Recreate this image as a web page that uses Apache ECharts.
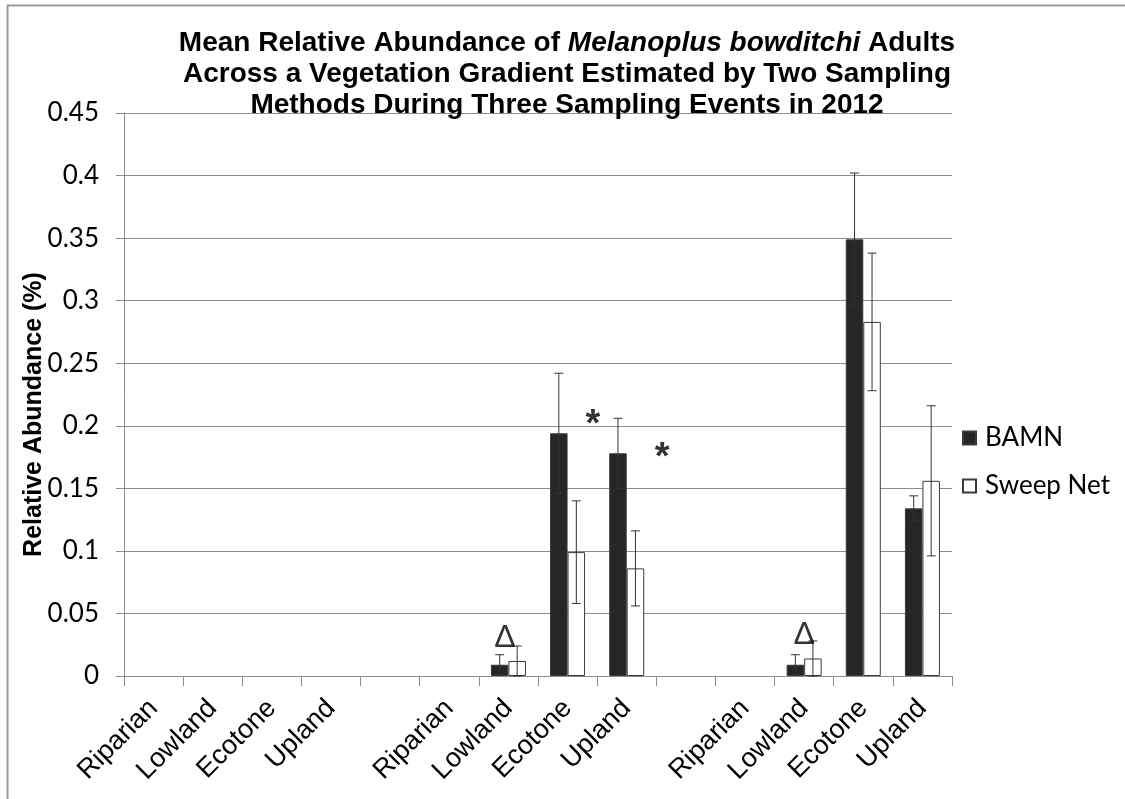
<!DOCTYPE html>
<html>
<head>
<meta charset="utf-8">
<script src="https://cdn.jsdelivr.net/npm/echarts@6/dist/echarts.min.js"></script>
<style>
html,body{margin:0;padding:0;background:#fff;}
#chart{width:1125px;height:799px;}
</style>
</head>
<body>
<div id="chart"></div>
<script>
// ---- data ----
const categories = ['Riparian','Lowland','Ecotone','Upland','',
                    'Riparian','Lowland','Ecotone','Upland','',
                    'Riparian','Lowland','Ecotone','Upland'];
const bamn      = [0,0,0,0,null, 0,0.009,0.194,0.178,null, 0,0.009,0.349,0.134];
const bamnErr   = [null,null,null,null,null, null,0.008,0.048,0.028,null, null,0.008,0.053,0.010];
const sweep     = [0,0,0,0,null, 0,0.012,0.099,0.086,null, 0,0.014,0.283,0.156];
const sweepErr  = [null,null,null,null,null, null,0.012,0.041,0.030,null, null,0.014,0.055,0.060];
const yTicks    = [0,0.05,0.1,0.15,0.2,0.25,0.3,0.35,0.4,0.45];
// annotation marks: [x position in category units, y value, symbol]
const notes = [
  [6.44, 0.030, 'Δ'],
  [11.50, 0.033, 'Δ'],
  [7.93, 0.200, '*'],
  [9.10, 0.174, '*']
];

const BAR_FRAC = 0.296;
const GRID_COLOR = '#8c8c8c';

function errData(vals, errs){
  const out = [];
  vals.forEach((v,i)=>{ if(v!=null && errs[i]!=null) out.push([i, v, errs[i]]); });
  return out;
}
function barData(vals){
  return vals.map(v => v === 0 ? {value:0, itemStyle:{borderWidth:0}} : v);
}

function errRender(sideSign){
  return function(params, api){
    const idx = api.value(0), v = api.value(1), e = api.value(2);
    const c = api.coord([idx, v]);
    const bw = api.size([1,0])[0] * BAR_FRAC;
    const x = c[0] + sideSign * bw/2;
    const top = api.coord([idx, v + e])[1];
    const bot = api.coord([idx, Math.max(0, v - e)])[1];
    const cap = 4.5;
    const style = {stroke:'#333', lineWidth:1};
    return {type:'group', children:[
      {type:'line', shape:{x1:x,y1:top,x2:x,y2:bot}, style},
      {type:'line', shape:{x1:x-cap,y1:top,x2:x+cap,y2:top}, style},
      {type:'line', shape:{x1:x-cap,y1:bot,x2:x+cap,y2:bot}, style}
    ]};
  };
}

const TITLE_FONT = 'Liberation Sans, Arial, sans-serif';
const chart = echarts.init(document.getElementById('chart'), null, {renderer:'canvas'});
const option = {
  animation:false,
  backgroundColor:'#fff',
  title:{
    left:562, top:23, textAlign:'center',
    text:'{b|Mean Relative Abundance of }{i|Melanoplus bowditchi}{b| Adults}\n{b|Across a Vegetation Gradient Estimated by Two Sampling}\n{b|Methods During Three Sampling Events in 2012}',
    textStyle:{
      rich:{
        b:{fontFamily:TITLE_FONT, fontWeight:'bold', fontSize:28, lineHeight:31, color:'#000'},
        i:{fontFamily:TITLE_FONT, fontWeight:'bold', fontStyle:'italic', fontSize:28, lineHeight:31, color:'#000'}
      }
    }
  },
  legend:{
    orient:'vertical', left:962, top:425, padding:0,
    itemWidth:13, itemHeight:13, itemGap:22,
    icon:'rect',
    textStyle:{fontFamily:'Lato, Open Sans, sans-serif', fontSize:26, color:'#000', padding:[0,0,0,4]},
    data:['BAMN','Sweep Net']
  },
  grid:{left:124, right:173, top:113, bottom:123, containLabel:false},
  xAxis:[{
    type:'category', data:categories,
    axisLine:{lineStyle:{color:GRID_COLOR, width:1}},
    axisTick:{show:true, length:10, interval:0, lineStyle:{color:GRID_COLOR}},
    axisLabel:{interval:0, rotate:45, margin:28, fontFamily:'Liberation Sans, Arial', fontSize:27, color:'#000'},
    splitLine:{show:false}
  },{
    type:'value', min:0, max:categories.length, show:false
  }],
  yAxis:{
    type:'value', min:0, max:0.45, interval:0.05,
    name:'Relative Abundance (%)', nameLocation:'middle', nameGap:77, nameRotate:90,
    nameMoveOverlap:false,
    nameTextStyle:{fontFamily:TITLE_FONT, fontWeight:'bold', fontSize:25, color:'#000', padding:[0,40,0,0]},
    axisLine:{show:true, lineStyle:{color:GRID_COLOR}},
    axisTick:{show:true, length:8, lineStyle:{color:GRID_COLOR}},
    axisLabel:{margin:25, fontFamily:'Lato, Open Sans, sans-serif', fontSize:26, color:'#000',
      formatter:(v)=>{ const t = yTicks.find(x=>Math.abs(x-v)<1e-9); return t==null? '' : String(t); }},
    splitLine:{show:true, lineStyle:{color:GRID_COLOR, width:1}}
  },
  series:[
    {name:'BAMN', type:'bar', data:barData(bamn), barWidth:(BAR_FRAC*100)+'%', barGap:'0%',
     itemStyle:{color:'#262626', borderColor:'#3a3a3a', borderWidth:1}},
    {name:'Sweep Net', type:'bar', data:barData(sweep), barWidth:(BAR_FRAC*100)+'%', barGap:'0%',
     itemStyle:{color:'#ffffff', borderColor:'#3a3a3a', borderWidth:1}},
    {type:'custom', renderItem:errRender(-1), data:errData(bamn,bamnErr), z:5, silent:true,
     encode:{x:0,y:1}},
    {type:'custom', renderItem:errRender(1), data:errData(sweep,sweepErr), z:5, silent:true,
     encode:{x:0,y:1}},
    {type:'scatter', xAxisIndex:1, symbolSize:0, z:6, silent:true,
     data:notes.map(n=>({value:[n[0],n[1]], name:n[2]})),
     label:{show:true, position:'inside',
       formatter:(p)=> p.name === '*' ? '{s|*}' : '{d|Δ}',
       rich:{
         s:{fontFamily:'Liberation Sans, Arial', fontSize:38, fontWeight:'bold', color:'#000'},
         d:{fontFamily:'Liberation Sans, Arial', fontSize:32, fontWeight:'normal', color:'#000'}
       }}}
  ],
  graphic:[{
    type:'polyline', silent:true,
    shape:{points:[[7.5,799],[7.5,5.5],[1125,5.5]]},
    style:{stroke:'#9a9a9a', lineWidth:2, fill:null}
  }]
};
chart.setOption(option);
</script>
</body>
</html>
